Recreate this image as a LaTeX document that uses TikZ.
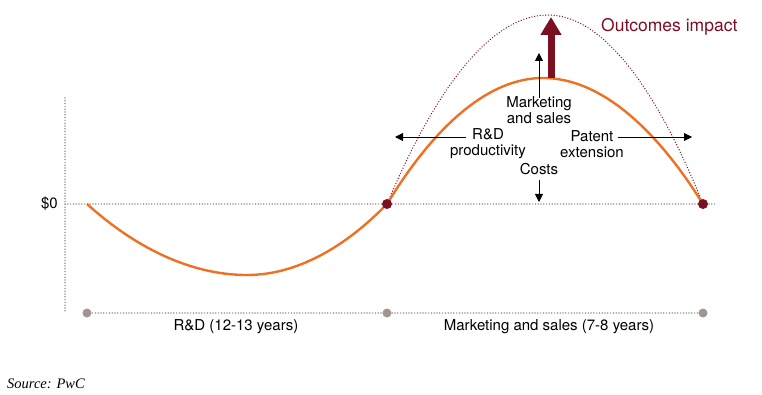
\documentclass[tikz,border=0pt]{standalone}
\usepackage{fontspec}
\setmainfont{TeX Gyre Heros}
\newfontfamily\srcfont{Liberation Serif}
\usetikzlibrary{arrows.meta}
\definecolor{pwcorange}{RGB}{238,112,35}
\definecolor{pwcred}{RGB}{122,16,34}
\definecolor{axisgrey}{RGB}{160,150,142}

\begin{document}
\begin{tikzpicture}[x=1pt, y=-1pt, line join=round,
    lbl/.style={font=\fontsize{15}{16}\selectfont, align=center, inner sep=0pt},
    guide/.style={axisgrey, line width=1.7pt, line cap=round, dash pattern=on 0pt off 2.8pt},
    thinarrow/.style={line width=0.9pt, -{Triangle[width=8pt,length=8pt]}}]
    \useasboundingbox (0,0) rectangle (762,395);
    \coordinate (T) at (65,98);
    \coordinate (U) at (65,311);
    \coordinate (O) at (65,204);
    \coordinate (Z) at (715,204);
    \coordinate (S) at (87,204);
    \coordinate (L) at (247,275);
    \coordinate (M) at (387,204);
    \coordinate (P) at (543,78);
    \coordinate (Q) at (548,15);
    \coordinate (E) at (703,204);
    \coordinate (A) at (87,313);
    \coordinate (B) at (387,313);
    \coordinate (C) at (703,313);
    % axes
    \draw[guide] (T) -- (U);
    \draw[guide] (O) -- (Z);
    \draw[guide] (A) -- (C);
    \foreach \p in {A,B,C}
        \fill[axisgrey] (\p) circle (4.5pt);
    % curves
    \draw[pwcred, line width=1.4pt, line cap=round, dash pattern=on 0pt off 2.8pt] (M) parabola bend (Q) (E);
    \draw[pwcorange, line width=2.4pt] (S) parabola bend (L) (M) parabola bend (P) (E);
    \fill[pwcred] (M) circle (5pt);
    \fill[pwcred] (E) circle (5pt);
    % big arrow
    \coordinate (G) at (551,78);
    \coordinate (H) at (551,17);
    \draw[pwcred, line width=7pt, -{Triangle[width=20pt,length=18pt]}] (G) -- (H);
    % labels
    \node[lbl, anchor=east] (zero) at (58,204) {\$0};
    \node[lbl, anchor=west, text=pwcred, font=\fontsize{17.5}{19}\selectfont] (impact) at (601,27) {Outcomes impact};
    \node[lbl] (mkt) at (539,110) {Marketing\\and sales};
    \node[lbl] (rnd) at (488,144) {R\&D\\productivity};
    \node[lbl] (pat) at (592,144) {Patent\\extension};
    \node[lbl] (cost) at (539,169) {Costs};
    \node[lbl] (rndyrs) at (236,327) {R\&D (12-13 years)};
    \node[lbl] (mktyrs) at (549,327) {Marketing and sales (7-8 years)};
    \node[anchor=base west, inner sep=0pt, font=\srcfont\itshape\fontsize{14.5}{16}\selectfont] (src) at (7,388) {Source: PwC};
    % thin arrows
    \coordinate (mktend) at (539,53);
    \coordinate (costend) at (539,202);
    \coordinate (lft) at (395,137);
    \coordinate (rgt) at (692,137);
    \coordinate (rndstart) at (466,137);
    \coordinate (patstart) at (618,137);
    \draw[thinarrow] ([yshift=-2pt]mkt.north) -- (mktend);
    \draw[thinarrow] ([yshift=-5pt]cost.south) -- (costend);
    \draw[thinarrow] (rndstart) -- (lft);
    \draw[thinarrow] (patstart) -- (rgt);
\end{tikzpicture}
\end{document}
